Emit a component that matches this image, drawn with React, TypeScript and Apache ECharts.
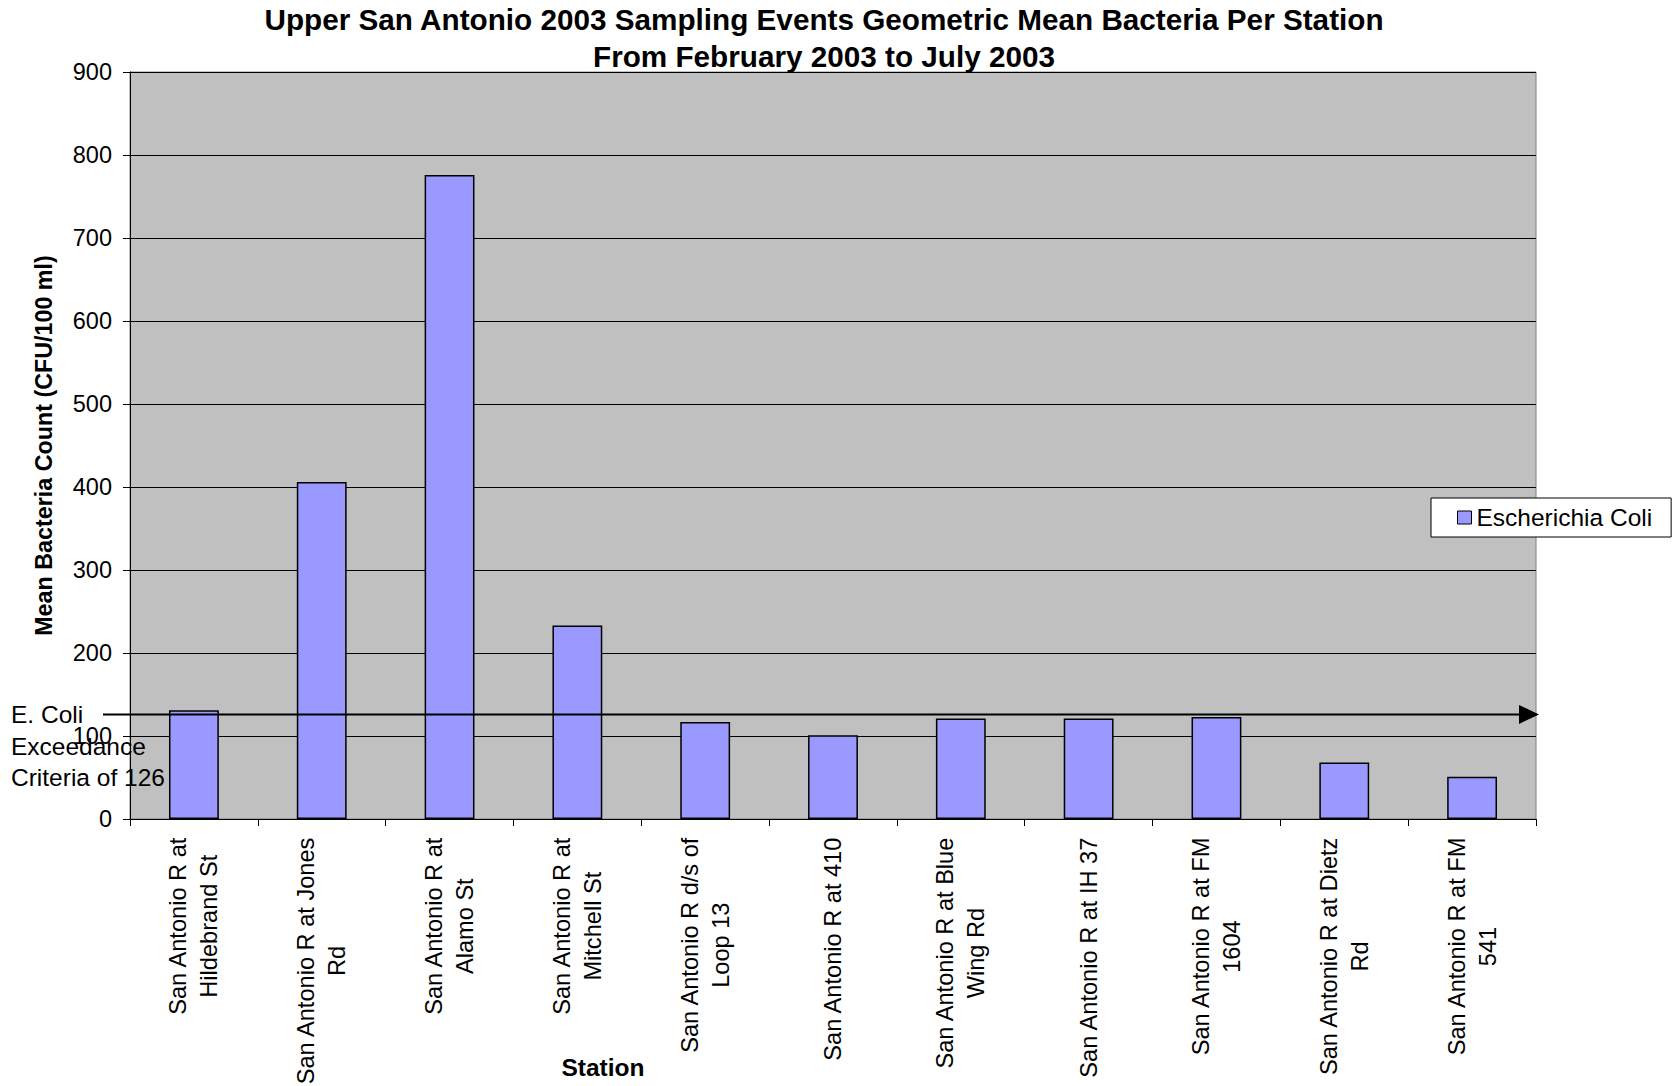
import React, { useEffect, useRef } from 'react';
import * as echarts from 'echarts';

// Stations along the upper San Antonio River, upstream to downstream
const stations = [
  'San Antonio R at\nHildebrand St',
  'San Antonio R at Jones\nRd',
  'San Antonio R at\nAlamo St',
  'San Antonio R at\nMitchell St',
  'San Antonio R d/s of\nLoop 13',
  'San Antonio R at 410',
  'San Antonio R at Blue\nWing Rd',
  'San Antonio R at IH 37',
  'San Antonio R at FM\n1604',
  'San Antonio R at Dietz\nRd',
  'San Antonio R at FM\n541',
];

// Geometric mean E. coli count per station (CFU/100 ml)
const eColiMeans = [131, 406, 776, 233, 117, 101, 121, 121, 123, 68, 51];

// Value axis range
const yMin = 0;
const yMax = 900;
const yStep = 100;

// Exceedance criterion for E. coli
const criterion = 126;

const W = 1673;
const H = 1086;
const GRID_LEFT = 130;
const GRID_RIGHT = 1536;
const GRID_TOP = 72;
const GRID_BOTTOM = 819;
const FONT = "'Liberation Sans', Arial, Helvetica, sans-serif";

export default function App() {
  const ref = useRef<HTMLDivElement>(null);

  useEffect(() => {
    if (!ref.current) return;
    const chart = echarts.init(ref.current, null, { renderer: 'svg' });

    chart.setOption({
      animation: false,
      backgroundColor: '#ffffff',
      textStyle: { fontFamily: FONT },
      title: {
        text:
          'Upper San Antonio 2003 Sampling Events Geometric Mean Bacteria Per Station\nFrom February 2003 to July 2003',
        left: 824,
        top: 1,
        textAlign: 'center',
        padding: 0,
        textStyle: {
          fontFamily: FONT,
          fontSize: 29.7,
          fontWeight: 'bold',
          color: '#000',
          lineHeight: 37,
        },
      },
      legend: {
        data: ['Escherichia Coli'],
        left: 1431,
        top: 498,
        orient: 'vertical',
        padding: [7, 19, 7, 26],
        backgroundColor: '#ffffff',
        borderColor: '#000',
        borderWidth: 1,
        borderRadius: 0,
        itemWidth: 14,
        itemHeight: 13,
        icon: 'rect',
        textStyle: { fontFamily: FONT, fontSize: 24.5, color: '#000' },
        itemStyle: { color: '#9999FF', borderColor: '#000', borderWidth: 1 },
      },
      grid: {
        left: GRID_LEFT,
        right: W - GRID_RIGHT,
        top: GRID_TOP,
        bottom: H - GRID_BOTTOM,
        show: true,
        backgroundColor: '#C0C0C0',
        borderColor: '#808080',
        borderWidth: 1,
        containLabel: false,
        outerBoundsMode: 'none',
      },
      xAxis: {
        type: 'category',
        data: stations,
        axisLine: { lineStyle: { color: '#000', width: 1 } },
        axisTick: { show: true, length: 7, alignWithLabel: false, lineStyle: { color: '#000' } },
        splitLine: { show: false },
        axisLabel: {
          interval: 0,
          rotate: 90,
          margin: 18,
          color: '#000',
          fontFamily: FONT,
          fontSize: 23.6,
          lineHeight: 31,
          formatter: (v: string) =>
            v
              .split('\n')
              .map((s) => `{c|${s}}`)
              .join('\n'),
          rich: {
            c: { align: 'center', fontFamily: FONT, fontSize: 23.6, lineHeight: 31, color: '#000' },
          },
        },
      },
      yAxis: {
        type: 'value',
        min: yMin,
        max: yMax,
        interval: yStep,
        name: 'Mean Bacteria Count (CFU/100 ml)',
        nameLocation: 'middle',
        nameGap: 75,
        nameTextStyle: { fontFamily: FONT, fontSize: 23.3, fontWeight: 'bold', color: '#000' },
        axisLine: { show: true, lineStyle: { color: '#000', width: 1 } },
        axisTick: { show: true, length: 7, lineStyle: { color: '#000' } },
        axisLabel: { color: '#000', fontFamily: FONT, fontSize: 23.5, margin: 18 },
        splitLine: { show: true, lineStyle: { color: '#000', width: 1 } },
      },
      series: [
        {
          name: 'Escherichia Coli',
          type: 'bar',
          data: eColiMeans,
          barCategoryGap: '61%',
          itemStyle: { color: '#9999FF', borderColor: '#000', borderWidth: 1.5 },
          z: 3,
        },
      ],
    });

    // Criterion arrow and its note, placed through the value axis scale
    const yc = chart.convertToPixel({ yAxisIndex: 0 }, criterion) as number;
    const tipX = GRID_RIGHT + 3;
    chart.setOption({
      graphic: [
        {
          type: 'line',
          z: 100,
          shape: { x1: GRID_LEFT - 27, y1: yc, x2: tipX - 18, y2: yc },
          style: { stroke: '#000', lineWidth: 2 },
        },
        {
          type: 'polygon',
          z: 100,
          shape: {
            points: [
              [tipX - 20, yc - 9.5],
              [tipX, yc],
              [tipX - 20, yc + 9.5],
            ],
          },
          style: { fill: '#000' },
        },
        {
          type: 'text',
          z: 101,
          left: 11,
          top: 699,
          style: {
            text: 'E. Coli\nExceedance\nCriteria of 126',
            fontFamily: FONT,
            fontSize: 24.5,
            lineHeight: 31.5,
            fill: '#000',
          },
        },
        {
          type: 'text',
          z: 101,
          x: 603,
          y: 1067,
          style: {
            text: 'Station',
            fontFamily: FONT,
            fontSize: 24.5,
            fontWeight: 'bold',
            fill: '#000',
            align: 'center',
            verticalAlign: 'middle',
          },
        },
      ],
    });

    return () => chart.dispose();
  }, []);

  return (
    <div
      ref={ref}
      style={{ position: 'absolute', left: 0, top: 0, width: W, height: H }}
    />
  );
}
